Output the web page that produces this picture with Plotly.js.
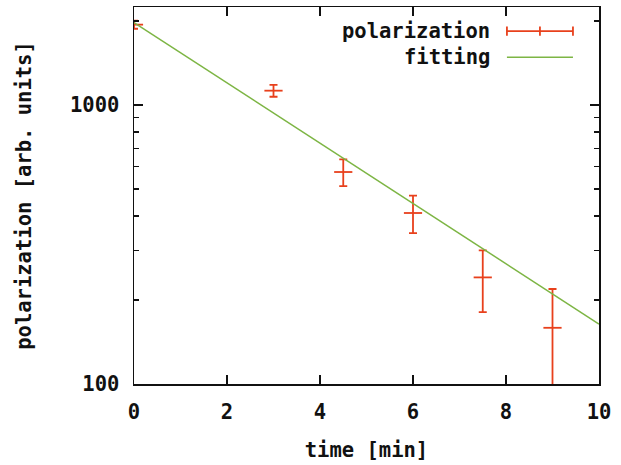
<!DOCTYPE html>
<html>
<head>
<meta charset="utf-8">
<script src="https://cdn.plot.ly/plotly-3.0.1.min.js"></script>
<style>html,body{margin:0;padding:0;background:#fff;}#chart{width:621px;height:465px;}</style>
</head>
<body>
<div id="chart"></div>
<script>
// measured data
var timeMin = [0, 3, 4.5, 6, 7.5, 9];
var polarization = [1940, 1125, 575, 410, 241, 159];
var polErr = [65, 55, 63, 63, 60, 60];
// fitted exponential (straight on log axis) – endpoints
var fitX = [0, 10];
var fitY = [1973, 164];
var xTicks = [0, 2, 4, 6, 8, 10];
var yTicks = [100, 1000];
var legendNames = ['polarization', 'fitting'];

var red = '#e8401c';
var green = '#7db544';
var fontFam = '"DejaVu Sans Mono", monospace';
var f = {family: fontFam, size: 20.5, color: '#111', weight: 'bold'};

var traces = [
  {x: timeMin, y: polarization, type: 'scatter', mode: 'markers', name: legendNames[0],
   marker: {symbol: 'line-ew', size: 13, line: {color: red, width: 1.8}, color: red},
   error_y: {type: 'data', array: polErr, visible: true, color: red, thickness: 1.8, width: 4},
   showlegend: false, cliponaxis: true},
  {x: fitX, y: fitY, type: 'scatter', mode: 'lines', name: legendNames[1],
   line: {color: green, width: 1.5}, showlegend: false}
];

var layout = {
  width: 621, height: 465,
  margin: {l: 134, r: 22, t: 7, b: 81},
  paper_bgcolor: '#fff', plot_bgcolor: '#fff',
  font: f,
  showlegend: false,
  xaxis: {
    range: [0, 10], tickvals: xTicks, ticktext: xTicks.map(String),
    ticks: 'inside', ticklen: 9, tickwidth: 1.3, tickcolor: '#111',
    showline: true, linecolor: '#111', linewidth: 1.5, mirror: 'ticks',
    showgrid: false, zeroline: false, tickfont: f, ticklabelstandoff: 9,
    title: {text: 'time [min]', font: f, standoff: 19}
  },
  yaxis: {
    type: 'log', range: [2, 3.351], tickvals: yTicks, ticktext: yTicks.map(String),
    ticks: 'inside', ticklen: 9, tickwidth: 1.3, tickcolor: '#111',
    minor: {ticks: 'inside', ticklen: 5, tickwidth: 1.2, tickcolor: '#111', dtick: 'D1', showgrid: false},
    showline: true, linecolor: '#111', linewidth: 1.5, mirror: 'ticks',
    showgrid: false, zeroline: false, tickfont: f, ticklabelstandoff: 9,
    title: {text: 'polarization [arb. units]', font: f, standoff: 33}
  },
  annotations: [
    {xref: 'paper', yref: 'paper', x: 0.770, y: 0.936, xanchor: 'right', yanchor: 'middle',
     text: legendNames[0], showarrow: false, font: f},
    {xref: 'paper', yref: 'paper', x: 0.770, y: 0.867, xanchor: 'right', yanchor: 'middle',
     text: legendNames[1], showarrow: false, font: f}
  ],
  shapes: [
    {type: 'line', xref: 'paper', yref: 'paper', x0: 0.802, x1: 0.944, y0: 0.936, y1: 0.936, line: {color: red, width: 1.8}},
    {type: 'line', xref: 'paper', yref: 'paper', x0: 0.802, x1: 0.802, y0: 0.924, y1: 0.948, line: {color: red, width: 1.8}},
    {type: 'line', xref: 'paper', yref: 'paper', x0: 0.873, x1: 0.873, y0: 0.924, y1: 0.948, line: {color: red, width: 1.8}},
    {type: 'line', xref: 'paper', yref: 'paper', x0: 0.944, x1: 0.944, y0: 0.924, y1: 0.948, line: {color: red, width: 1.8}},
    {type: 'line', xref: 'paper', yref: 'paper', x0: 0.802, x1: 0.944, y0: 0.867, y1: 0.867, line: {color: green, width: 1.5}}
  ]
};

Plotly.newPlot('chart', traces, layout, {displayModeBar: false, staticPlot: true});
</script>
</body>
</html>
